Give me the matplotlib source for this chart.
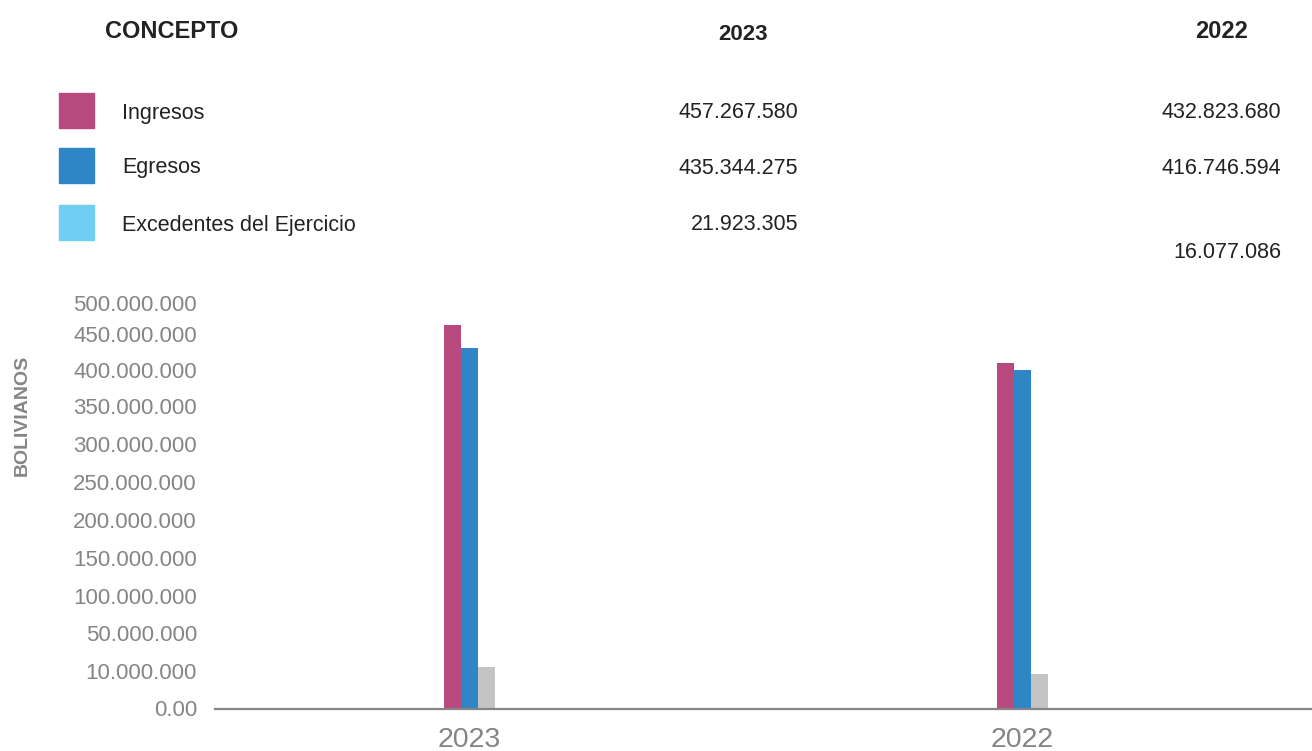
import numpy as np
import matplotlib
matplotlib.use("Agg")
import matplotlib.pyplot as plt
from matplotlib.patches import Rectangle

plt.rcParams["font.family"] = ["Liberation Sans", "DejaVu Sans"]

# DATOS
conceptos = ["Ingresos", "Egresos", "Excedentes del Ejercicio"]
anios = ["2023", "2022"]
tabla_2023 = ["457.267.580", "435.344.275", "21.923.305"]
tabla_2022 = ["432.823.680", "416.746.594", "16.077.086"]

# alturas de las barras (Bs.)
ingresos = [464e6, 410e6]
egresos = [430e6, 400e6]
excedentes = [13.5e6, 9e6]

ticks_valores = [0, 10e6, 50e6, 100e6, 150e6, 200e6, 250e6, 300e6, 350e6, 400e6, 450e6, 500e6]
ticks_etiquetas = ["0.00", "10.000.000", "50.000.000", "100.000.000", "150.000.000",
                   "200.000.000", "250.000.000", "300.000.000", "350.000.000",
                   "400.000.000", "450.000.000", "500.000.000"]

# COLORES
col_ing = "#B84A80"
col_egr = "#2F86C7"
col_exc = "#6FCEF1"
col_exc_barra = "#C4C4C4"
gris = "#858585"

W, H = 1312, 751
fig = plt.figure(figsize=(W / 100, H / 100), dpi=100)

def fx(px):
    return px / W

def fy(py):
    return 1 - py / H

# ENCABEZADO / TABLA
fig.text(fx(105), fy(31), "CONCEPTO", fontsize=17, fontweight="bold", color="#222222", va="center")
fig.text(fx(743), fy(34), anios[0], fontsize=16, fontweight="bold", color="#222222", va="center", ha="center")
fig.text(fx(1222), fy(31), anios[1], fontsize=17, fontweight="bold", color="#222222", va="center", ha="center")

filas_y = [110, 165, 222]
colores_leyenda = [col_ing, col_egr, col_exc]
y_2022 = [110, 165, 250]
for i in range(len(conceptos)):
    fig.patches.append(Rectangle((fx(59), fy(filas_y[i] + 17.5)), 35 / W, 35 / H,
                                 transform=fig.transFigure, color=colores_leyenda[i]))
    fig.text(fx(122), fy(filas_y[i] + 3), conceptos[i], fontsize=15.5, color="#222222", va="center")
    fig.text(fx(798), fy(filas_y[i] + 3), tabla_2023[i], fontsize=15.5, color="#222222", va="center", ha="right")
    fig.text(fx(1281), fy(y_2022[i] + 3), tabla_2022[i], fontsize=15.5, color="#222222", va="center", ha="right")

# GRAFICO
ax = fig.add_axes([fx(215), fy(708.5), (W - 215) / W, 405.8 / H])

# escala no lineal del eje (posicion en pixeles de cada marca)
alturas = [0, 37.8, 75.8, 112.8, 150.8, 188.5, 226.5, 264.5, 302.5, 338.5, 374.5, 405.8]

def adelante(v):
    return np.interp(v, ticks_valores, alturas)

def atras(h):
    return np.interp(h, alturas, ticks_valores)

ax.set_yscale("function", functions=(adelante, atras))

x = np.arange(len(anios))
ancho = 0.031
ax.bar(x - ancho, ingresos, ancho, color=col_ing)
ax.bar(x, egresos, ancho, color=col_egr)
ax.bar(x + ancho, excedentes, ancho, color=col_exc_barra)

ax.set_xlim(-0.46, 1.523)
ax.set_ylim(0, 500e6)
ax.set_yticks(ticks_valores)
ax.set_yticklabels(ticks_etiquetas)
ax.set_xticks(x)
ax.set_xticklabels(anios)
ax.minorticks_off()

for s in ["top", "right", "left"]:
    ax.spines[s].set_visible(False)
ax.spines["bottom"].set_color(gris)
ax.spines["bottom"].set_linewidth(1.6)

ax.tick_params(axis="y", length=0, pad=13, labelsize=16, labelcolor=gris)
ax.tick_params(axis="x", length=0, pad=13, labelsize=20.5, labelcolor=gris)
ax.patch.set_alpha(0)

fig.text(fx(22), fy(415), "BOLIVIANOS", rotation=90, fontsize=14, fontweight="bold",
         color=gris, ha="center", va="center")

fig.savefig("out.png", dpi=100)
